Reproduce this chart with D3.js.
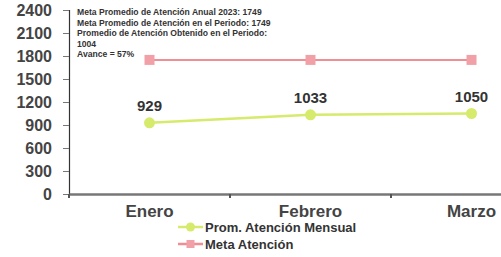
<!DOCTYPE html>
<html>
<head>
<meta charset="utf-8">
<script src="https://cdn.jsdelivr.net/npm/d3@7"></script>
<style>
  body { margin: 0; background: #fff; }
  text { font-family: "Liberation Sans", Arial, sans-serif; }
</style>
</head>
<body>
<svg width="501" height="257"></svg>
<script>
const months = ["Enero", "Febrero", "Marzo"]
const promMensual = [929, 1033, 1050]
const metaAtencion = [1749, 1749, 1749]
const yTicks = [0, 300, 600, 900, 1200, 1500, 1800, 2100, 2400]
const noteLines = [
  "Meta Promedio de Atención Anual 2023: 1749",
  "Meta Promedio de Atención en el Periodo: 1749",
  "Promedio de Atención Obtenido en el Periodo:",
  "1004",
  "Avance = 57%"
]
const legendNames = ["Prom. Atención Mensual", "Meta Atención"]

const svg = d3.select("svg")
const green = "#d6ea6c", pink = "#ef8f95"

const x = d3.scaleBand().domain(months).range([69, 552])
const y = d3.scaleLinear().domain([0, 2400]).range([194, 10])

// y axis
const yAxis = svg.append("g").attr("transform", "translate(69,0)")
  .call(d3.axisLeft(y).tickValues(yTicks).tickFormat(d3.format("d")).tickSize(6).tickPadding(11))
yAxis.select(".domain").attr("stroke", "#333").attr("stroke-width", 1.2)
yAxis.selectAll(".tick line").attr("stroke", "#777")
yAxis.selectAll(".tick text")
  .attr("font-size", 16).attr("font-weight", "bold").attr("fill", "#444")

// x axis
const xAxis = svg.append("g").attr("transform", "translate(0,194)")
  .call(d3.axisBottom(x).tickSize(0).tickPadding(11).tickSizeOuter(0))
xAxis.select(".domain").attr("stroke", "#777").attr("stroke-width", 2.5)
xAxis.selectAll(".tick text")
  .attr("font-size", 17).attr("font-weight", "bold").attr("fill", "#444")
// category separators
svg.selectAll(".sep").data(months).join("line")
  .attr("x1", d => x(d)).attr("x2", d => x(d))
  .attr("y1", 194).attr("y2", 198)
  .attr("stroke", "#555").attr("stroke-width", 2)

const cx = d => x(d) + x.bandwidth() / 2

// meta line
svg.append("path")
  .datum(metaAtencion)
  .attr("fill", "none").attr("stroke", pink).attr("stroke-width", 2)
  .attr("d", d3.line().x((d, i) => cx(months[i])).y(d => y(d)))
svg.selectAll(".metaPt").data(metaAtencion).join("rect")
  .attr("x", (d, i) => cx(months[i]) - 5).attr("y", d => y(d) - 5)
  .attr("width", 10).attr("height", 10).attr("fill", "#f2a0a8")

// promedio line
svg.append("path")
  .datum(promMensual)
  .attr("fill", "none").attr("stroke", green).attr("stroke-width", 2.5)
  .attr("d", d3.line().x((d, i) => cx(months[i])).y(d => y(d)))
svg.selectAll(".promPt").data(promMensual).join("circle")
  .attr("cx", (d, i) => cx(months[i])).attr("cy", d => y(d))
  .attr("r", 5.5).attr("fill", green)
svg.selectAll(".promLbl").data(promMensual).join("text")
  .attr("x", (d, i) => cx(months[i])).attr("y", d => y(d) - 12)
  .attr("text-anchor", "middle").attr("font-size", 15).attr("font-weight", "bold")
  .attr("fill", "#333").text(d => d)

// note text
svg.selectAll(".note").data(noteLines).join("text")
  .attr("x", 77).attr("y", (d, i) => 15 + i * 10.5)
  .attr("font-size", 8.6).attr("font-weight", "bold").attr("fill", "#333")
  .text(d => d)

// legend
const legend = svg.selectAll(".leg").data(legendNames).join("g")
  .attr("transform", (d, i) => `translate(178,${227 + i * 17})`)
legend.append("line").attr("x1", 0).attr("x2", 25)
  .attr("stroke", (d, i) => i ? pink : green).attr("stroke-width", 2.5)
legend.each(function (d, i) {
  const g = d3.select(this)
  if (i === 0) g.append("circle").attr("cx", 12.5).attr("r", 4.5).attr("fill", green)
  else g.append("rect").attr("x", 8.5).attr("y", -4).attr("width", 8).attr("height", 8).attr("fill", "#f2a0a8")
})
legend.append("text").attr("x", 27).attr("dy", "0.35em")
  .attr("font-size", 13).attr("font-weight", "bold").attr("fill", "#333")
  .text(d => d)
</script>
</body>
</html>
